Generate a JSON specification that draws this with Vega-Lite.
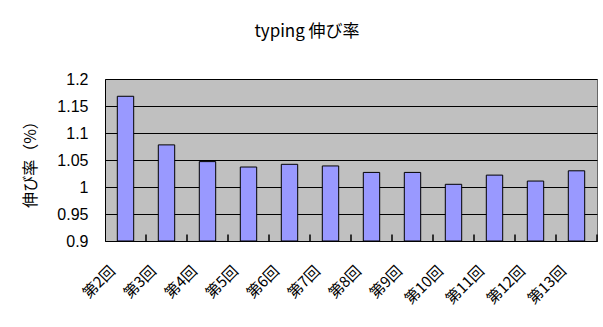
{
  "$schema": "https://vega.github.io/schema/vega-lite/v6.json",
  "autosize": {"type": "none"},
  "width": 492,
  "height": 162,
  "padding": {"left": 105, "top": 79, "right": 6, "bottom": 86},
  "background": "#ffffff",
  "title": {
    "text": "typing 伸び率",
    "font": "Noto Sans CJK JP",
    "fontSize": 17,
    "fontWeight": "normal",
    "color": "#000000",
    "anchor": "middle",
    "dx": -44,
    "offset": 30
  },
  "data": {
    "values": [
      {"round": "第2回", "rate": 1.168},
      {"round": "第3回", "rate": 1.078},
      {"round": "第4回", "rate": 1.047},
      {"round": "第5回", "rate": 1.037},
      {"round": "第6回", "rate": 1.042},
      {"round": "第7回", "rate": 1.039},
      {"round": "第8回", "rate": 1.027},
      {"round": "第9回", "rate": 1.027},
      {"round": "第10回", "rate": 1.005},
      {"round": "第11回", "rate": 1.022},
      {"round": "第12回", "rate": 1.011},
      {"round": "第13回", "rate": 1.030}
    ]
  },
  "encoding": {
    "x": {
      "field": "round",
      "type": "nominal",
      "sort": null,
      "scale": {"paddingInner": 0.6, "paddingOuter": 0.3},
      "axis": {
        "title": null,
        "labelAngle": -45,
        "labelAlign": "right",
        "labelBaseline": "middle",
        "labelOffset": -13,
        "labelPadding": 27,
        "labelFont": "Noto Sans CJK JP",
        "labelFontSize": 15,
        "labelColor": "#000000",
        "ticks": false,
        "domainColor": "#000000",
        "grid": false
      }
    }
  },
  "layer": [
    {
      "mark": {"type": "bar", "fill": "#9999FF", "stroke": "#000000", "strokeWidth": 1, "clip": true},
      "encoding": {
        "y": {
          "field": "rate",
          "type": "quantitative",
          "scale": {"domain": [0.9, 1.2], "zero": false, "nice": false},
          "axis": {
            "title": "伸び率（%）",
            "titleFont": "Noto Sans CJK JP",
            "titleFontSize": 16,
            "titleFontWeight": "normal",
            "titleColor": "#000000",
            "titlePadding": 18,
            "values": [0.9, 0.95, 1, 1.05, 1.1, 1.15, 1.2],
            "labelExpr": "'' + datum.value",
            "labelFont": "Liberation Sans",
            "labelFontSize": 16,
            "labelColor": "#000000",
            "labelPadding": 17,
            "ticks": false,
            "grid": true,
            "gridColor": "#000000",
            "gridOpacity": 1,
            "gridWidth": 1,
            "domainColor": "#000000"
          }
        },
        "y2": {"datum": 0.9}
      }
    },
    {
      "mark": {"type": "rule", "color": "#000000", "strokeWidth": 1.5},
      "encoding": {
        "x": {"field": "round", "type": "nominal", "sort": null, "bandPosition": 1.75},
        "y": {"datum": 0.9, "type": "quantitative", "axis": null},
        "y2": {"datum": 0.912}
      }
    }
  ],
  "resolve": {"axis": {"y": "independent"}},
  "config": {
    "view": {"fill": "#C0C0C0", "stroke": "#666666"}
  }
}
